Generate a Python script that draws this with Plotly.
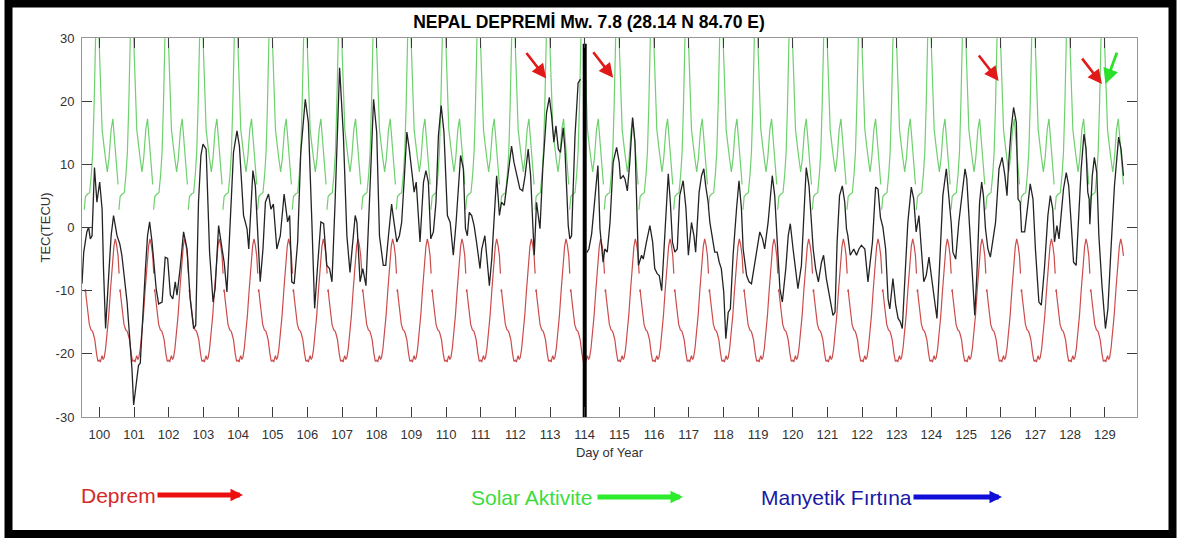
import plotly.graph_objects as go

# ---------------- data ----------------
X_TICK_DAYS = list(range(100, 130))
Y_TICK_VALUES = [-30, -20, -10, 0, 10, 20, 30]
Y_TICK_LABELS = ["-30", "-20", "-10", "0", "10", "20", "30"]

# one-day profile of the upper bound (green) and lower bound (red); None = data gap
GREEN_FRAC = [0.00, 0.04, 0.08, 0.11, 0.14, 0.18, 0.23, 0.28, 0.34, 0.39, 0.44, 0.49, 0.54, None,
              0.565, 0.60, 0.66, 0.72, 0.77, 0.81, 0.85, 0.88, 0.92, 0.96]
GREEN_VAL = [27, 22, 15.5, 13.4, 12.6, 10.8, 8.8, 11.0, 15.5, 17.2, 13.8, 9.8, 6.8, None,
             2.8, 4.9, 5.3, 5.5, 8.5, 12.0, 19.5, 29.0, 37.0, 35.0]
RED_FRAC = [0.00, 0.03, 0.06, 0.08, 0.11, 0.14, 0.18, 0.22, 0.27, 0.32, 0.37, 0.42, 0.46, 0.50,
            0.54, 0.57, None, 0.585, 0.60, 0.62, 0.66, 0.71, 0.76, 0.80, 0.83, 0.87, 0.92, 0.96]
RED_VAL = [-21.0, -21.3, -20.6, -20.3, -20.9, -20.6, -19.2, -17.0, -14.0, -10.0, -6.2, -3.0, -1.8, -2.8,
           -4.5, -7.3, None, -10.2, -9.8, -11.0, -13.0, -15.3, -16.2, -16.4, -16.9, -17.8, -20.0, -21.2]
PROFILE_DAYS = list(range(99, 130))
DATA_START = 99.555
DATA_END = 129.545

# observed TEC (black)
TEC_DAY = [
    99.50, 99.55, 99.64, 99.69, 99.74, 99.79, 99.86, 99.93, 100.01, 100.08, 100.12, 100.18, 100.27, 100.34,
    100.41, 100.51, 100.59, 100.65, 100.80, 100.89, 100.94, 100.99, 101.07, 101.13, 101.18, 101.26, 101.33,
    101.39, 101.45, 101.52, 101.57, 101.64, 101.71, 101.81, 101.90, 101.97, 102.05, 102.12, 102.19, 102.24,
    102.33, 102.43, 102.53, 102.62, 102.72, 102.78, 102.86, 102.93, 102.99, 103.08, 103.18, 103.28, 103.34,
    103.44, 103.54, 103.60, 103.68, 103.78, 103.87, 103.97, 104.04, 104.16, 104.26, 104.31, 104.37, 104.43,
    104.50, 104.56, 104.64, 104.72, 104.79, 104.88, 104.95, 105.02, 105.12, 105.22, 105.33, 105.43, 105.49,
    105.55, 105.62, 105.72, 105.81, 105.94, 106.03, 106.13, 106.21, 106.29, 106.39, 106.47, 106.56, 106.64,
    106.71, 106.80, 106.93, 107.04, 107.14, 107.23, 107.38, 107.43, 107.52, 107.60, 107.69, 107.81, 107.91,
    108.00, 108.08, 108.19, 108.26, 108.34, 108.43, 108.50, 108.58, 108.655, 108.72, 108.80, 108.87, 108.94,
    109.01, 109.08, 109.14, 109.20, 109.25, 109.35, 109.42, 109.49, 109.56, 109.635, 109.71, 109.78, 109.86,
    109.94, 110.04, 110.12, 110.21, 110.29, 110.355, 110.42, 110.50, 110.56, 110.615, 110.67, 110.74, 110.81,
    110.88, 110.98, 111.03, 111.12, 111.19, 111.25, 111.32, 111.38, 111.46, 111.54, 111.60, 111.68, 111.80,
    111.89, 111.96, 112.04, 112.13, 112.21, 112.28, 112.37, 112.44, 112.50, 112.545, 112.61, 112.71, 112.79,
    112.90, 112.98, 113.045, 113.11, 113.17, 113.24, 113.30, 113.38, 113.43, 113.48, 113.525, 113.57, 113.62,
    113.72, 113.81, 113.88, None,
    114.06, 114.12, 114.20, 114.30, 114.38, 114.44, 114.53, 114.58, 114.65, 114.73, 114.82, 114.92, 114.995,
    115.03, 115.11, 115.16, 115.23, 115.30, 115.38, 115.45, 115.51, 115.55, 115.64, 115.69, 115.78, 115.88,
    115.96, 116.02, 116.09, 116.15, 116.22, 116.31, 116.41, 116.47, 116.53, 116.60, 116.67, 116.74, 116.84,
    116.92, 116.99, 117.08, 117.15, 117.20, 117.30, 117.37, 117.435, 117.49, 117.56, 117.61, 117.66, 117.75,
    117.82, 117.88, 117.94, 118.01, 118.07, 118.14, 118.20, 118.28, 118.38, 118.45, 118.52, 118.57, 118.67,
    118.74, 118.81, 118.88, 118.95, 119.05, 119.13, 119.19, 119.29, 119.41, 119.48, 119.55, 119.63, 119.70,
    119.80, 119.87, 119.93, 120.01, 120.09, 120.15, 120.25, 120.32, 120.39, 120.47, 120.54, 120.59, 120.66,
    120.74, 120.83, 120.89, 120.97, 121.07, 121.16, 121.22, 121.28, 121.35, 121.43, 121.50, 121.55, 121.59,
    121.66, 121.76, 121.84, 121.91, 121.98, 122.08, 122.17, 122.30, 122.39, 122.46, 122.53, 122.60, 122.68,
    122.75, 122.80, 122.89, 122.97, 123.04, 123.10, 123.16, 123.23, 123.32, 123.42, 123.49, 123.56, 123.64,
    123.71, 123.78, 123.85, 123.93, 123.997, 124.09, 124.16, 124.24, 124.33, 124.43, 124.51, 124.57, 124.62,
    124.70, 124.79, 124.89, 124.97, 125.02, 125.10, 125.18, 125.25, 125.31, 125.39, 125.45, 125.50, 125.56,
    125.63, 125.70, 125.77, 125.85, 125.95, 126.04, 126.12, 126.18, 126.23, 126.30, 126.37, 126.45, 126.50,
    126.56, 126.60, 126.69, 126.78, 126.85, 126.93, 127.00, 127.10, 127.17, 127.26, 127.36, 127.43, 127.50,
    127.55, 127.62, 127.68, 127.74, 127.81, 127.89, 127.96, 128.03, 128.10, 128.175, 128.25, 128.32, 128.40,
    128.46, 128.51, 128.55, 128.57, 128.64, 128.70, 128.77, 128.83, 128.92, 129.02, 129.09, 129.18, 129.28,
    129.40, 129.47, 129.54,
]
TEC_VAL = [
    -8.9, -3.9, -0.7, 0.05, -1.8, -1.3, 9.5, 4.0, 7.2, 2.9, -6.5, -16.0, -7.6, -1.3,
    1.9, -1.3, -2.6, -4.4, -11.8, -18.6, -22.3, -28.1, -24.9, -21.8, -21.5, -12.8, -6.5,
    -1.3, 0.9, -2.3, -6.0, -9.7, -12.1, -11.8, -4.7, -4.9, -10.7, -11.3, -8.6, -10.7,
    -6.5, -0.7, -3.4, -11.3, -16.0, -15.5, 4.0, 11.4, 13.2, 12.4, -3.9, -11.8, -9.7,
    0.3, -3.4, -5.5, -10.2, 0.3, 11.9, 15.3, 12.9, 1.9, -0.2, -3.4, 4.0, 9.0,
    6.6, -0.2, -8.6, -3.4, 4.0, 5.3, 2.9, 3.7, -3.4, -1.3, 5.3, 0.9, 1.9,
    -8.6, -8.9, -2.3, 11.9, 20.3, 16.6, 0.9, -12.8, -6.5, 0.9, 0.6, -6.0, -6.5,
    -8.6, 4.0, 25.3, 14.5, -1.3, -7.1, 1.9, 0.8, -8.6, -6.5, -9.2, 6.6, 20.3,
    15.1, -1.3, -6.0, -6.0, -1.3, 3.7, 0.8, -2.3, -1.3, 0.8, 8.2, 15.1, 12.4,
    8.7, 5.6, 7.2, 1.9, -2.3, 7.2, 9.0, 7.2, -1.8, -0.7, 4.0, 14.5, 19.3,
    15.1, 1.9, 0.8, -4.4, 0.8, 6.6, 11.4, 9.3, -0.2, -1.3, 2.4, 1.9, 0.3,
    -2.3, -6.5, -3.4, -1.3, -5.5, -9.2, -4.9, 0.8, 8.2, 1.9, 4.0, 3.5, 9.3,
    12.9, 10.3, 8.2, 6.1, 5.8, 8.2, 12.4, 8.2, 0.8, -4.4, 4.0, -0.2, 9.3,
    18.2, 20.6, 17.7, 13.5, 16.1, 12.4, 11.9, 15.8, 12.4, 6.1, 0.3, -1.8, -1.3,
    14.5, 22.9, 23.5, None,
    -4.0, -3.4, -1.0, 5.0, 9.8, -0.2, -5.5, -3.4, -3.9, 0.8, 10.3, 12.7, 10.3,
    7.7, 8.2, 7.7, 5.8, 10.3, 17.4, 13.5, 1.4, -6.0, -4.4, -5.0, -2.3, 0.3,
    -2.3, -6.5, -7.3, -7.6, -10.0, -1.3, 8.5, 4.0, -2.3, -3.9, -3.4, 5.05, 7.4,
    3.0, -4.4, 0.8, -1.3, -3.9, 5.6, 8.2, 9.3, 6.6, 4.0, 0.8, -0.7, -3.9,
    -3.9, -5.5, -6.5, -10.2, -17.6, -13.4, -12.9, -4.4, 3.0, 7.4, 3.0, -3.4, -7.6,
    -8.6, -8.9, -6.5, -3.4, -0.7, -1.8, -3.4, 0.8, 8.2, 5.05, -1.3, -9.7, -11.8,
    -6.5, -1.3, 0.6, -3.4, -7.6, -9.7, -6.0, 1.9, 9.5, 6.6, 0.8, -3.4, -6.5,
    -8.6, -5.5, -4.4, -8.1, -11.3, -13.9, -13.4, -2.3, 5.05, 6.6, 4.0, -0.2, -1.3,
    -4.4, -3.4, -4.4, -3.4, -2.8, -3.4, -8.6, -2.3, 6.4, 6.1, 1.6, 0.05, -3.4,
    -11.3, -12.9, -8.1, -12.3, -14.4, -14.9, -16.0, -7.6, 0.8, 6.4, 4.5, -0.7, 1.9,
    -3.4, -8.6, -7.6, -4.7, -7.6, -11.8, -14.4, -5.5, 5.05, 9.3, 5.05, 0.8, -3.9,
    -5.0, 0.8, 5.6, 9.3, 7.7, 0.3, -5.5, -13.9, -7.6, 4.0, 7.2, 5.05, -0.2,
    -3.4, -4.7, -2.0, 0.8, 9.3, 11.1, 8.2, 5.05, 10.3, 15.6, 19.0, 16.6, 4.5,
    4.0, -0.7, -0.7, 3.5, 6.9, 4.5, -3.4, -11.8, -12.3, -6.5, 1.9, 5.05, 2.9,
    -2.3, 0.3, -1.8, 1.4, 6.1, 8.7, 6.6, 0.8, -5.5, -6.0, 1.4, 9.3, 14.8,
    12.4, 5.6, 4.5, 0.5, 8.2, 11.1, 8.7, -1.3, -9.2, -16.0, -12.9, -3.4, 6.6,
    14.3, 12.4, 8.2,
]

EQ_DAY = 114.0
EQ_LINE_TOP = 29.1

# arrows marking anomalies: (day, TEC) of arrow tip
RED_ARROW_DAY = [112.89, 114.82, 125.94, 128.92]
RED_ARROW_TEC = [23.6, 23.7, 23.2, 22.7]
GREEN_ARROW_DAY = [129.02]
GREEN_ARROW_TEC = [22.7]

LEGEND_LABELS = ["Deprem", "Solar Aktivite", "Manyetik Fırtına"]

# ---------------- build periodic bounds from the one-day profiles ----------------
def tile(fracs, vals):
    xs, ys = [], []
    for d in PROFILE_DAYS:
        for f, v in zip(fracs, vals):
            if f is None:
                if xs and xs[-1] is not None:
                    xs.append(None)
                    ys.append(None)
                continue
            x = d + f
            if DATA_START <= x <= DATA_END:
                xs.append(x)
                ys.append(v)
    return xs, ys

gx, gy = tile(GREEN_FRAC, GREEN_VAL)
rx, ry = tile(RED_FRAC, RED_VAL)

FONT = "Liberation Sans, Arial, sans-serif"

fig = go.Figure()
fig.add_trace(go.Scatter(x=gx, y=gy, mode="lines", line=dict(color="rgb(110,208,110)", width=1.2),
                         connectgaps=False, hoverinfo="skip"))
fig.add_trace(go.Scatter(x=rx, y=ry, mode="lines", line=dict(color="rgb(205,75,75)", width=1.2),
                         connectgaps=False, hoverinfo="skip"))
fig.add_trace(go.Scatter(x=TEC_DAY, y=TEC_VAL, mode="lines", line=dict(color="rgb(35,35,35)", width=1.3),
                         connectgaps=False))
fig.add_trace(go.Scatter(x=[EQ_DAY, EQ_DAY], y=[-30, EQ_LINE_TOP], mode="lines",
                         line=dict(color="black", width=4), hoverinfo="skip"))

# plot-area geometry (pixels) for paper conversions
W, H = 1178, 540
ML, MR, MT, MB = 82, 41, 38, 123
PW, PH = W - ML - MR, H - MT - MB

def px(x):
    return (x - ML) / PW

def py(y):
    return (H - MB - y) / PH

annotations = []
for d, v in zip(RED_ARROW_DAY, RED_ARROW_TEC):
    annotations.append(dict(x=d, y=v, xref="x", yref="y", text="", showarrow=True,
                            ax=-21, ay=-27, arrowcolor="rgb(225,25,25)", arrowwidth=2.6,
                            arrowhead=2, arrowsize=1.1, standoff=0))
for d, v in zip(GREEN_ARROW_DAY, GREEN_ARROW_TEC):
    annotations.append(dict(x=d, y=v, xref="x", yref="y", text="", showarrow=True,
                            ax=12, ay=-33, arrowcolor="rgb(40,225,40)", arrowwidth=2.8,
                            arrowhead=2, arrowsize=1.1, standoff=0))

legend_specs = [
    (LEGEND_LABELS[0], 79, 156, 243, 495, "rgb(215,40,40)", "rgb(235,15,15)"),
    (LEGEND_LABELS[1], 469, 596, 683, 497, "rgb(60,220,60)", "rgb(45,235,45)"),
    (LEGEND_LABELS[2], 759, 912, 1002, 497, "rgb(25,25,165)", "rgb(15,15,215)"),
]
for label, tx, a0, a1, yy, tcol, acol in legend_specs:
    annotations.append(dict(x=px(tx), y=py(yy), xref="paper", yref="paper", text=label,
                            showarrow=False, xanchor="left", yanchor="middle",
                            font=dict(family=FONT, size=21, color=tcol)))
    annotations.append(dict(x=px(a1), y=py(yy), xref="paper", yref="paper", text="",
                            showarrow=True, ax=a0 - a1, ay=0, arrowcolor=acol, arrowwidth=5,
                            arrowhead=2, arrowsize=0.5, standoff=0))

shapes = [dict(type="rect", xref="paper", yref="paper",
               x0=px(8.5), x1=px(1172.5), y0=py(534), y1=py(3.5),
               line=dict(color="black", width=8), fillcolor="rgba(0,0,0,0)", layer="above")]

axis_common = dict(showline=True, linecolor="rgb(150,150,150)", linewidth=1, mirror="ticks",
                   ticks="inside", ticklen=10, tickwidth=1, tickcolor="rgb(60,60,60)",
                   showgrid=False, zeroline=False,
                   tickfont=dict(family=FONT, size=13, color="rgb(50,50,50)"))

fig.update_layout(
    width=W, height=H,
    margin=dict(l=ML, r=MR, t=MT, b=MB),
    paper_bgcolor="white", plot_bgcolor="white",
    showlegend=False,
    title=dict(text="<b>NEPAL DEPREMİ Mw. 7.8 (28.14 N 84.70 E)</b>", x=0.5, xref="container",
               y=1 - 22 / H, yref="container", xanchor="center", yanchor="middle",
               font=dict(family=FONT, size=17.5, color="black")),
    xaxis=dict(range=[99.5, 129.93], tickvals=X_TICK_DAYS, ticktext=[str(d) for d in X_TICK_DAYS],
               ticklabelstandoff=5,
               title=dict(text="Day of Year", standoff=7, font=dict(family=FONT, size=13, color="rgb(50,50,50)")),
               **axis_common),
    yaxis=dict(range=[-30, 30], tickvals=Y_TICK_VALUES, ticktext=Y_TICK_LABELS,
               ticklabelstandoff=4,
               title=dict(text="TEC(TECU)", standoff=2, font=dict(family=FONT, size=13, color="rgb(50,50,50)")),
               **axis_common),
    annotations=annotations,
    shapes=shapes,
)

fig.write_html("out.html")
